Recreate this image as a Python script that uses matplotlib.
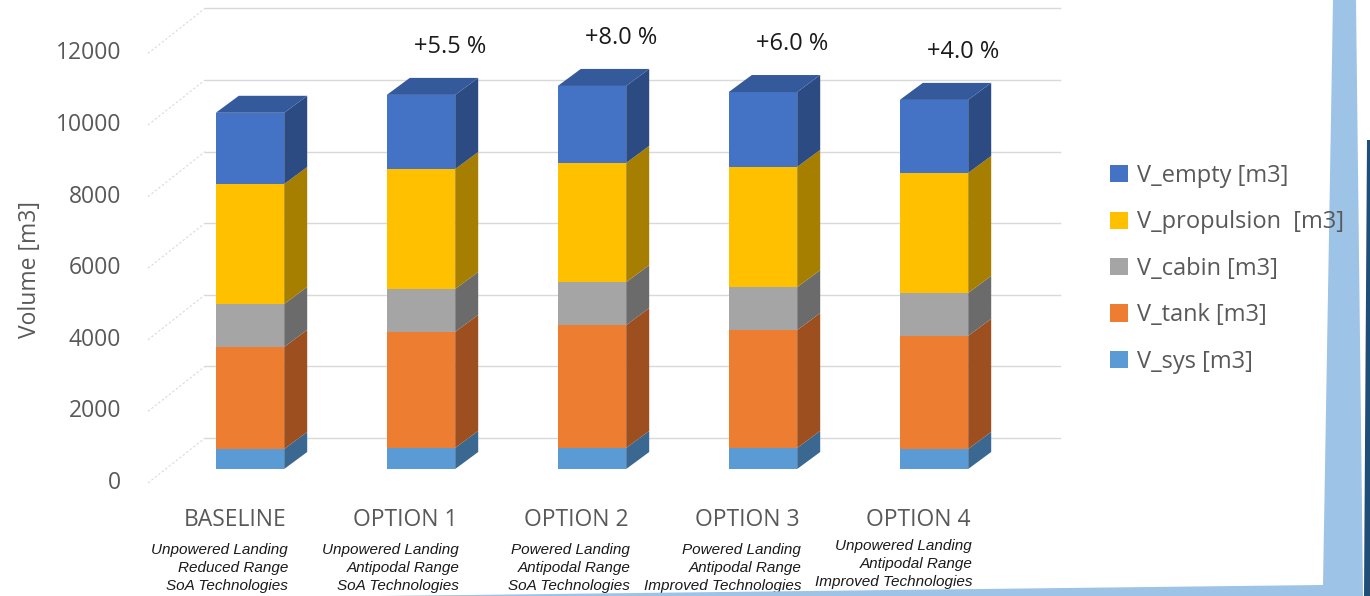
import matplotlib
matplotlib.use("Agg")
import matplotlib.pyplot as plt
from matplotlib.patches import Polygon, Patch
import numpy as np

# ---------------- data ----------------
categories = ["BASELINE", "OPTION 1", "OPTION 2", "OPTION 3", "OPTION 4"]
sublabels = [
    "Unpowered Landing\nReduced Range\nSoA Technologies",
    "Unpowered Landing\nAntipodal Range\nSoA Technologies",
    "Powered Landing\nAntipodal Range\nSoA Technologies",
    "Powered Landing\nAntipodal Range\nImproved Technologies",
    "Unpowered Landing\nAntipodal Range\nImproved Technologies",
]
series_names = ["V_sys [m3]", "V_tank [m3]", "V_cabin [m3]", "V_propulsion  [m3]", "V_empty [m3]"]
v_sys = [560, 590, 590, 590, 560]
v_tank = [2850, 3240, 3430, 3290, 3160]
v_cabin = [1200, 1200, 1200, 1200, 1200]
v_propulsion = [3350, 3350, 3330, 3360, 3350]
v_empty = [1990, 2070, 2150, 2090, 2040]
pct_labels = ["", "+5.5 %", "+8.0 %", "+6.0 %", "+4.0 %"]
y_ticks = [0, 2000, 4000, 6000, 8000, 10000, 12000]
y_label = "Volume [m3]"

series = [v_sys, v_tank, v_cabin, v_propulsion, v_empty]
front_cols = ["#5B9BD5", "#ED7D31", "#A5A5A5", "#FFC000", "#4472C4"]
side_cols = ["#3B6890", "#9E4F1F", "#6B6B6B", "#A67F00", "#2C4B82"]
top_cols = ["#4A82B8", "#C8692A", "#8C8C8C", "#D9A300", "#345A9C"]

# ---------------- layout (pixels) ----------------
W, H = 1370, 596
PX_CAT = 171.0          # px between category centres
X0 = 250.0              # px of first bar centre
Y0 = 469.0              # px of value 0 on bar front plane
PX_UNIT = 0.0358        # px per m3

fig = plt.figure(figsize=(W / 100, H / 100), dpi=100)
fig.patch.set_facecolor("white")
ax = fig.add_axes([0, 0, 1, 1])
ax.set_xlim((0 - X0) / PX_CAT, (W - X0) / PX_CAT)
ax.set_ylim((Y0 - H) / PX_UNIT, Y0 / PX_UNIT)
ax.axis("off")

def px_dx(p):
    return p / PX_CAT

def px_dy(p):
    return p / PX_UNIT

x = np.arange(len(categories))
bw = 0.4
ddx, ddy = px_dx(23), px_dy(17)            # bar depth
wall_dy = px_dy(31)                          # back wall offset
label_dy = -px_dy(14)                        # label plane offset
wall_x0 = (205 - X0) / PX_CAT
wall_x1 = (1060 - X0) / PX_CAT
lab_x0 = (148 - X0) / PX_CAT
tick_x = (121 - X0) / PX_CAT

grey_txt = "#595959"
font_main = ["Open Sans", "DejaVu Sans"]

# back wall gridlines + floor/diagonal guides
for v in y_ticks:
    ax.plot([wall_x0, wall_x1], [v + wall_dy, v + wall_dy], color="#D9D9D9", lw=1.0, zorder=1)
    ax.plot([lab_x0, wall_x0], [v + label_dy, v + wall_dy], color="#D9D9D9", lw=0.8,
            ls=(0, (2, 2)), zorder=1)
    ax.text(tick_x, v + label_dy, f"{v}", ha="right", va="center", fontsize=16.5,
            color=grey_txt, family=font_main)

ax.text((30 - X0) / PX_CAT, (Y0 - 270) / PX_UNIT, y_label, rotation=90, ha="center",
        va="center", fontsize=16.5, color=grey_txt, family=font_main)

# bars
bottom = np.zeros(len(categories))
for k, vals in enumerate(series):
    vals = np.asarray(vals, dtype=float)
    ax.bar(x, vals, bottom=bottom, width=bw, color=front_cols[k], edgecolor="none",
           zorder=3)
    for i in range(len(x)):
        xr = x[i] + bw / 2
        b, t = bottom[i], bottom[i] + vals[i]
        side = Polygon([(xr, b), (xr + ddx, b + ddy), (xr + ddx, t + ddy), (xr, t)],
                       closed=True, facecolor=side_cols[k], edgecolor="none", zorder=3)
        ax.add_patch(side)
        if k == len(series) - 1:
            xl = x[i] - bw / 2
            top = Polygon([(xl, t), (xl + ddx, t + ddy), (xr + ddx, t + ddy), (xr, t)],
                          closed=True, facecolor=top_cols[k], edgecolor="none", zorder=3)
            ax.add_patch(top)
    bottom = bottom + vals

totals = bottom
for i, lab in enumerate(pct_labels):
    if lab:
        ax.text(x[i] + 0.17, totals[i] + px_dy(48), lab, ha="center", va="center",
                fontsize=17, color="#1A1A1A", family=font_main)

# category labels
for i in range(len(x)):
    xr = x[i] + bw / 2 + px_dx(2)
    ax.text(xr, (Y0 - 520) / PX_UNIT, categories[i], ha="right", va="center",
            fontsize=16.5, color=grey_txt, family=font_main)
    sub_top = 543 if i < len(x) - 1 else 539
    ax.text(xr + px_dx(2), (Y0 - sub_top) / PX_UNIT, sublabels[i], ha="right", va="top",
            multialignment="right", fontsize=11, style="italic", color="#1A1A1A",
            family=["Liberation Sans Narrow", "Liberation Sans", "DejaVu Sans"],
            linespacing=1.38)

# legend
handles = [Patch(facecolor=front_cols[k], edgecolor="none") for k in range(len(series))][::-1]
labels = series_names[::-1]
leg = fig.legend(handles, labels, loc="upper left", bbox_to_anchor=(1110 / W, 1 - 164 / H),
                 frameon=False, labelcolor=grey_txt, handlelength=0.75,
                 handleheight=0.75, handletextpad=0.4, labelspacing=0.95,
                 borderaxespad=0, borderpad=0, prop={"family": font_main, "size": 17})
leg.set_zorder(30)

# slide decoration on the right / bottom
def fpx(px, py):
    return (px / W, 1 - py / H)

light = Polygon([fpx(1333, 0), fpx(1356, 0), fpx(1363, 596), fpx(380, 596), fpx(1323, 585)],
                closed=True, transform=fig.transFigure, facecolor="#9DC3E6",
                edgecolor="none", zorder=10)
dark = Polygon([fpx(1367, 140), fpx(1370, 140), fpx(1370, 596), fpx(1364, 596)],
               closed=True, transform=fig.transFigure, facecolor="#1F4E79",
               edgecolor="none", zorder=10)
fig.patches.extend([light, dark])

fig.savefig("out.png", dpi=100, facecolor="white")
